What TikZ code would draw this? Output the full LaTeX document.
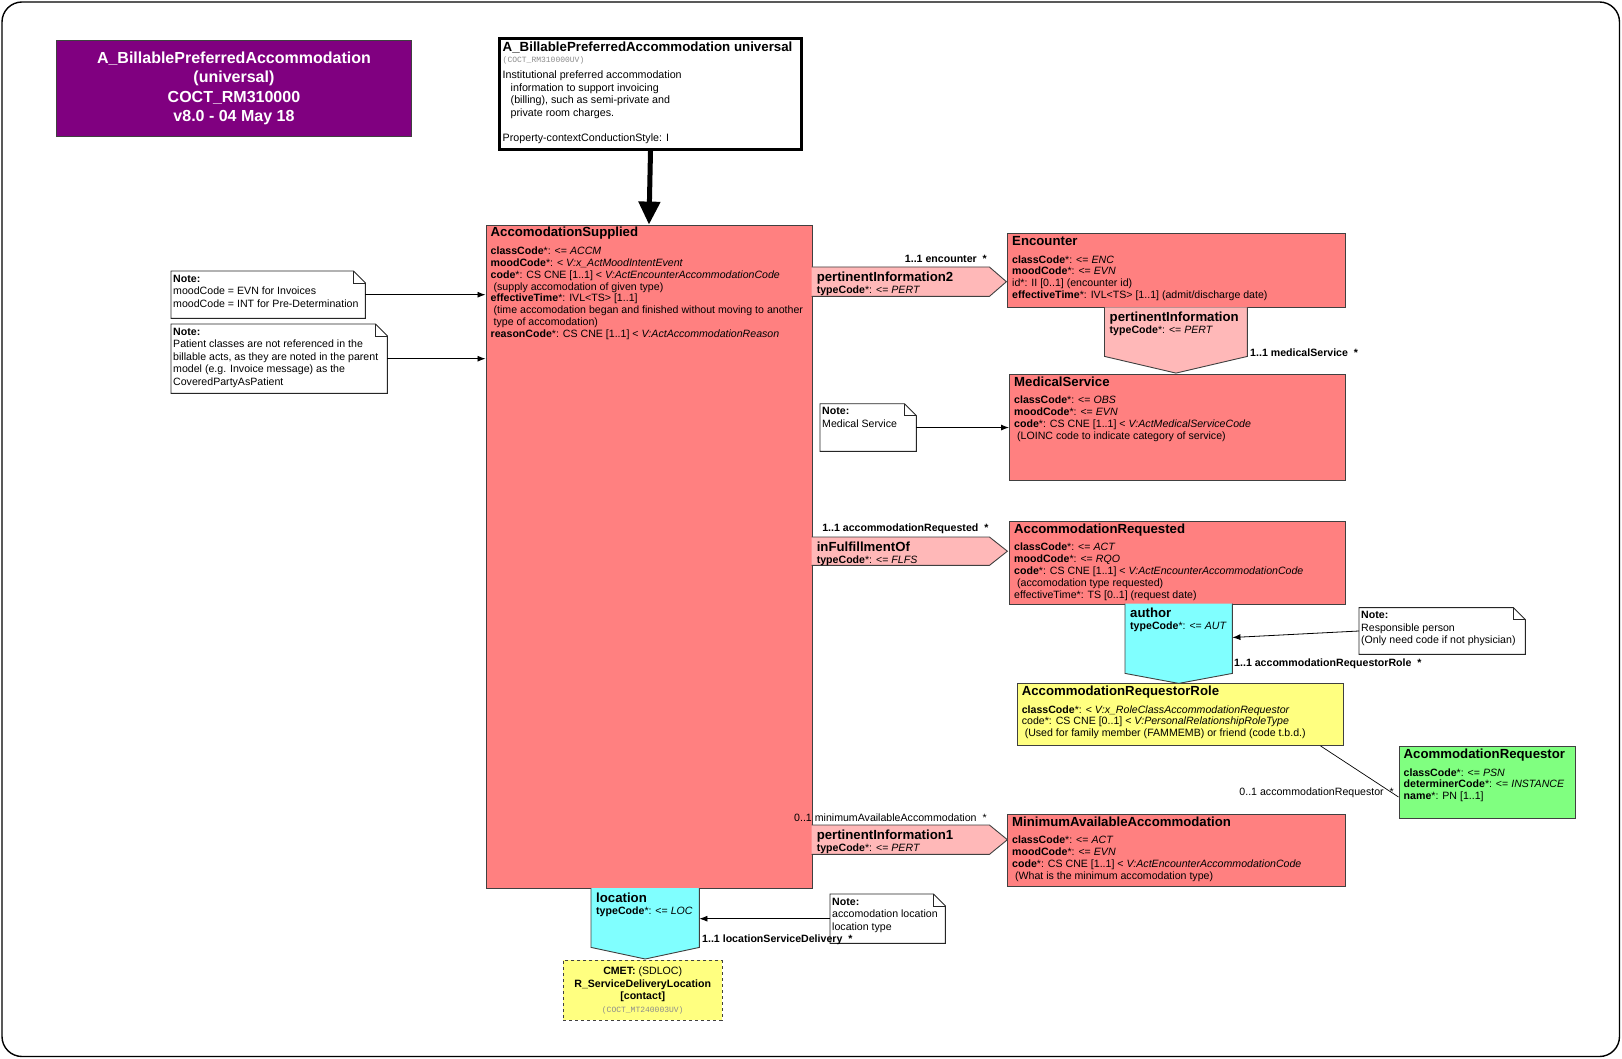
\documentclass[tikz,border=0pt]{standalone}
\usepackage{fontspec}
\setmainfont{Liberation Sans}
\setmonofont{Liberation Mono}
\usetikzlibrary{calc}
\usetikzlibrary{positioning}
\usetikzlibrary{arrows.meta}

\definecolor{actred}{HTML}{FF8080}
\definecolor{relpink}{HTML}{FFB8B8}
\definecolor{partcyan}{HTML}{80FFFF}
\definecolor{roleyellow}{HTML}{FFFF80}
\definecolor{entgreen}{HTML}{80FF80}
\definecolor{hdrpurple}{HTML}{800080}
\definecolor{edgegray}{HTML}{404040}

\tikzstyle{clsbox}=[%
  draw=edgegray,
  line width=0.9pt,
  anchor=north west,
  inner sep=0pt
]
\tikzstyle{relbody}=[anchor=north west, inner sep=0pt, minimum height=29pt]
\tikzstyle{clsname}=[%
  anchor=north west,
  inner sep=0pt,
  text height=9.6pt,
  text depth=2.8pt,
  font=\fontsize{13.2}{15}\selectfont\bfseries
]
\tikzstyle{attrs}=[anchor=north west, inner sep=0pt, align=left, font=\fontsize{10.6}{11.8}\selectfont]
\tikzstyle{notebox}=[anchor=north west, inner sep=0pt]
\tikzstyle{notetxt}=[anchor=north west, inner sep=0pt, align=left, font=\fontsize{10.6}{12.5}\selectfont]
\tikzstyle{mult}=[inner sep=0pt, font=\fontsize{10.6}{12}\selectfont]
\tikzstyle{notearrow}=[line width=0.8pt, -{Latex[length=8pt,width=6pt]}]
\newcommand{\idcode}{\fontsize{8}{9}\selectfont\ttfamily\color{black!45}}

\begin{document}
\begin{tikzpicture}[x=1pt, y=-1pt]
  \useasboundingbox (0,0) rectangle (1622,1059);
  \draw[line width=1.4pt, rounded corners=20pt] (2,2) rectangle (1619.5,1056.5);

  % title and header
  \node[clsbox, fill=hdrpurple, text=white, align=center, minimum width=355pt, minimum height=96pt,
    font=\fontsize{16}{19.3}\selectfont\bfseries] (ttl) at (56,40)
    {A\_BillablePreferredAccommodation\\(universal)\\COCT\_RM310000\\v8.0 - 04 May 18};
  \node[clsbox, draw=black, line width=3pt, fill=white, minimum width=302pt, minimum height=111pt] (hdr) at (498,37) {};
  \node[clsname, text height=9.7pt, font=\fontsize{13.3}{15}\selectfont\bfseries] (hdrT) at (502.5,41.7)
    {A\_BillablePreferredAccommodation universal};
  \node[anchor=west, inner sep=0pt, font=\idcode] (hdrC) at (502.5,60.5) {(COCT\_RM310000UV)};
  \node[notetxt, font=\fontsize{10.7}{12.6}\selectfont] (hdrD) at (502.5,70.6)
    {Institutional preferred accommodation\\\hspace*{8pt}information to support invoicing\\
     \hspace*{8pt}(billing), such as semi-private and\\\hspace*{8pt}private room charges.\\[12.6pt]
     Property-contextConductionStyle: I};

  % classes
  \node[clsbox, fill=actred, minimum width=326pt, minimum height=663pt] (as) at (485.5,224.6) {};
  \node[clsbox, fill=actred, minimum width=338pt, minimum height=74.5pt] (enc) at (1007,233) {};
  \node[clsbox, fill=actred, minimum width=336pt, minimum height=106pt] (ms) at (1009,373.7) {};
  \node[clsbox, fill=actred, minimum width=336pt, minimum height=83pt] (ar) at (1009,520.7) {};
  \node[clsbox, fill=roleyellow, minimum width=326pt, minimum height=62pt] (rol) at (1016.6,683) {};
  \node[clsbox, fill=entgreen, minimum width=176pt, minimum height=72pt] (req) at (1398.5,746) {};
  \node[clsbox, fill=actred, minimum width=338pt, minimum height=72.3pt] (maa) at (1007,813.7) {};
  \node[clsbox, dashed, fill=roleyellow, minimum width=158.5pt, minimum height=60pt, align=center,
    font=\fontsize{10.6}{12.4}\selectfont] (cmet) at (563,960)
    {\textbf{CMET:} (SDLOC)\\\textbf{R\_ServiceDeliveryLocation}\\\textbf{[contact]}\\{\idcode (COCT\_MT240003UV)}};

  % relationship shapes
  \node[relbody, minimum width=177.4pt] (pi2) at (811.6,267) {};
  \node[relbody, minimum width=177.4pt, minimum height=28pt] (inf) at (811.6,537) {};
  \node[relbody, minimum width=177.4pt] (pi1) at (811.6,825) {};
  \node[relbody, minimum width=142.5pt, minimum height=48.5pt] (pi) at (1104.5,307.5) {};
  \node[relbody, minimum width=107pt, minimum height=69.5pt] (au) at (1125,603.5) {};
  \node[relbody, minimum width=108pt, minimum height=59pt] (loc) at (591,888) {};
  \foreach \n/\tip in {pi2/17, inf/18, pi1/18} {%
    \filldraw[fill=relpink, draw=edgegray, line width=0.9pt] (\n.north west) -- (\n.north east)
      -- ([xshift=\tip pt]\n.east) -- (\n.south east) -- (\n.south west);
  }
  \foreach \n/\c/\tip in {pi/relpink/16.7, au/partcyan/10, loc/partcyan/11.6} {%
    \filldraw[fill=\c, draw=edgegray, line width=0.9pt] (\n.north west) -- (\n.south west)
      -- ([yshift=-\tip pt]\n.south) -- (\n.south east) -- (\n.north east);
  }

  % names and attributes
  \node[clsname] (asT) at ([shift={(5,2.5)}]as.north west) {AccomodationSupplied};
  \node[below=7pt of asT.south west, attrs] {\textbf{classCode}*: <= \textit{ACCM}\\
    \textbf{moodCode}*: < \textit{V:x\_ActMoodIntentEvent}\\
    \textbf{code}*: CS CNE [1..1] < \textit{V:ActEncounterAccommodationCode}\\
    \ (supply accomodation of given type)\\
    \textbf{effectiveTime}*: IVL<TS> [1..1]\\
    \ (time accomodation began and finished without moving to another\\
    \ type of accomodation)\\
    \textbf{reasonCode}*: CS CNE [1..1] < \textit{V:ActAccommodationReason}};
  \node[clsname] (encT) at ([shift={(5,2.5)}]enc.north west) {Encounter};
  \node[below=7pt of encT.south west, attrs] {\textbf{classCode}*: <= \textit{ENC}\\
    \textbf{moodCode}*: <= \textit{EVN}\\
    id*: II [0..1] (encounter id)\\
    \textbf{effectiveTime}*: IVL<TS> [1..1] (admit/discharge date)};
  \node[clsname] (msT) at ([shift={(5,2.5)}]ms.north west) {MedicalService};
  \node[below=7pt of msT.south west, attrs] {\textbf{classCode}*: <= \textit{OBS}\\
    \textbf{moodCode}*: <= \textit{EVN}\\
    \textbf{code}*: CS CNE [1..1] < \textit{V:ActMedicalServiceCode}\\
    \ (LOINC code to indicate category of service)};
  \node[clsname] (arT) at ([shift={(5,2.5)}]ar.north west) {AccommodationRequested};
  \node[below=7pt of arT.south west, attrs] {\textbf{classCode}*: <= \textit{ACT}\\
    \textbf{moodCode}*: <= \textit{RQO}\\
    \textbf{code}*: CS CNE [1..1] < \textit{V:ActEncounterAccommodationCode}\\
    \ (accomodation type requested)\\
    effectiveTime*: TS [0..1] (request date)};
  \node[clsname] (rolT) at ([shift={(5,2.5)}]rol.north west) {AccommodationRequestorRole};
  \node[below=7pt of rolT.south west, attrs] {\textbf{classCode}*: < \textit{V:x\_RoleClassAccommodationRequestor}\\
    code*: CS CNE [0..1] < \textit{V:PersonalRelationshipRoleType}\\
    \ (Used for family member (FAMMEMB) or friend (code t.b.d.)};
  \node[clsname] (reqT) at ([shift={(5,2.5)}]req.north west) {AcommodationRequestor};
  \node[below=7pt of reqT.south west, attrs] {\textbf{classCode}*: <= \textit{PSN}\\
    \textbf{determinerCode}*: <= \textit{INSTANCE}\\
    \textbf{name}*: PN [1..1]};
  \node[clsname] (maaT) at ([shift={(5,2.5)}]maa.north west) {MinimumAvailableAccommodation};
  \node[below=7pt of maaT.south west, attrs] {\textbf{classCode}*: <= \textit{ACT}\\
    \textbf{moodCode}*: <= \textit{EVN}\\
    \textbf{code}*: CS CNE [1..1] < \textit{V:ActEncounterAccommodationCode}\\
    \ (What is the minimum accomodation type)};
  \foreach \n/\name/\tc in {pi2/pertinentInformation2/PERT, inf/inFulfillmentOf/FLFS,
      pi1/pertinentInformation1/PERT, pi/pertinentInformation/PERT, au/author/AUT, loc/location/LOC} {%
    \node[clsname] (\n T) at ([shift={(5,4.5)}]\n.north west) {\name};
    \node[below=1pt of \n T.south west, attrs] {\textbf{typeCode}*: <= \textit{\tc}};
  }

  % notes
  \node[notebox, minimum width=194pt, minimum height=47pt] (n1) at (171,271) {};
  \node[notebox, minimum width=216pt, minimum height=69pt] (n2) at (171,324) {};
  \node[notebox, minimum width=96pt, minimum height=47.3pt] (n3) at (820,403.7) {};
  \node[notebox, minimum width=166pt, minimum height=46.4pt] (n4) at (1359,607.6) {};
  \node[notebox, minimum width=115pt, minimum height=49pt] (n5) at (830,894) {};
  \foreach \n in {n1,n2,n3,n4,n5} {%
    \filldraw[fill=white, draw=black!85, line width=0.9pt] (\n.south west) -- (\n.north west)
      -- ([xshift=-12pt]\n.north east) -- ([yshift=-12pt]\n.north east) -- (\n.south east) -- cycle;
    \draw[black!85, line width=0.6pt] ([xshift=-12pt]\n.north east) |- ([yshift=-12pt]\n.north east);
  }
  \node[notetxt] at ([shift={(2,3.7)}]n1.north west) {\textbf{Note:}\\moodCode = EVN for Invoices\\
    moodCode = INT for Pre-Determination};
  \node[notetxt] at ([shift={(2,3.7)}]n2.north west) {\textbf{Note:}\\Patient classes are not referenced in the\\
    billable acts, as they are noted in the parent\\model (e.g. Invoice message) as the\\CoveredPartyAsPatient};
  \node[notetxt] at ([shift={(2,3.7)}]n3.north west) {\textbf{Note:}\\Medical Service};
  \node[notetxt] at ([shift={(2,3.7)}]n4.north west) {\textbf{Note:}\\Responsible person\\
    (Only need code if not physician)};
  \node[notetxt] at ([shift={(2,3.7)}]n5.north west) {\textbf{Note:}\\accomodation location\\location type};

  % connectors
  \draw[line width=5pt, -{Triangle[length=23pt,width=21pt]}] (hdr.south) -- (as.north);
  \draw[notearrow] (n1.east) -- (as.west |- n1.east);
  \draw[notearrow] (n2.east) -- (as.west |- n2.east);
  \draw[notearrow] (n3.east) -- (ms.west |- n3.east);
  \draw[notearrow] (n4.west) -- ([yshift=-34pt]au.north east);
  \draw[notearrow] (n5.west) -- (loc.east |- n5.west);
  \draw[line width=0.7pt] ([xshift=-23pt]rol.south east) -- ([yshift=-51pt]req.north west);

  % multiplicities
  \foreach \x/\y/\anc/\txt in {987/259/east/{\bfseries 1..1 encounter~~*},
      1250/353/west/{\bfseries 1..1 medicalService~~*},
      988.6/529/east/{\bfseries 1..1 accommodationRequested~~*},
      1234/663.5/west/{\bfseries 1..1 accommodationRequestorRole~~*},
      1394/793/east/{0..1 accommodationRequestor~~*},
      794/818/west/{0..1 minimumAvailableAccommodation~~*},
      702/940/west/{\bfseries 1..1 locationServiceDelivery~~*}} {%
    \node[mult, anchor=\anc] at (\x,\y) {\txt};
  }
\end{tikzpicture}
\end{document}
